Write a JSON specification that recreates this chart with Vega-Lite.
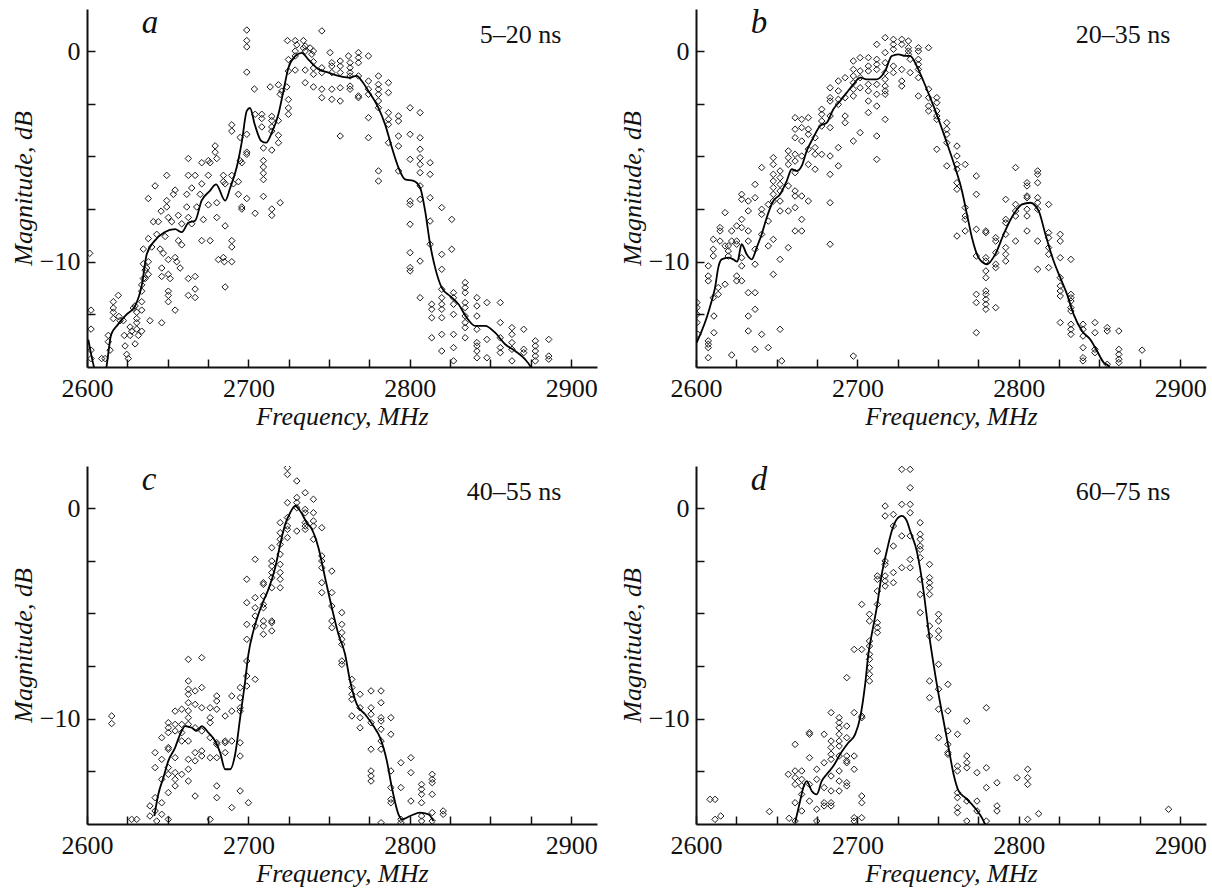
{
"$schema":"https://vega.github.io/schema/vega-lite/v6.json",
"padding":{"left":10,"top":6,"right":5,"bottom":3},
"bounds":"flush",
"spacing":{"row":99,"column":99},
"data":{"values":[
{"p":"a","f":2634,"m":0.86,"t":"a","s":"l"},{"p":"b","f":2634,"m":0.86,"t":"b","s":"l"},{"p":"c","f":2634,"m":0.86,"t":"c","s":"l"},{"p":"d","f":2634,"m":0.86,"t":"d","s":"l"},
{"p":"a","f":2894,"m":0.37,"t":"5–20 ns","s":"r"},{"p":"b","f":2894,"m":0.37,"t":"20–35 ns","s":"r"},{"p":"c","f":2894,"m":0.37,"t":"40–55 ns","s":"r"},{"p":"d","f":2894,"m":0.37,"t":"60–75 ns","s":"r"},
{"p":"a","f":2601.7,"m":-9.6},{"p":"a","f":2602.5,"m":-12.3},{"p":"a","f":2602.5,"m":-13.2},{"p":"a","f":2602.5,"m":-14.2},{"p":"a","f":2602.5,"m":-14.6},{"p":"a","f":2609.1,"m":-14.6},{"p":"a","f":2611.2,"m":-14.6},{"p":"a","f":2613.2,"m":-13.5},{"p":"a","f":2613.2,"m":-13.8},{"p":"a","f":2614.3,"m":-14.2},{"p":"a","f":2616.3,"m":-11.9},{"p":"a","f":2616.3,"m":-12.2},{"p":"a","f":2616.3,"m":-12.4},{"p":"a","f":2616.3,"m":-12.7},{"p":"a","f":2619.4,"m":-11.6},{"p":"a","f":2619.8,"m":-12.6},{"p":"a","f":2620.5,"m":-12.8},{"p":"a","f":2622.5,"m":-12.8},{"p":"a","f":2623.1,"m":-13.5},{"p":"a","f":2623.6,"m":-14.0},{"p":"a","f":2624.6,"m":-14.4},{"p":"a","f":2625.6,"m":-14.6},{"p":"a","f":2626.7,"m":-13.1},{"p":"a","f":2626.7,"m":-13.5},{"p":"a","f":2627.7,"m":-13.3},{"p":"a","f":2628.7,"m":-12.2},{"p":"a","f":2629.8,"m":-12.1},{"p":"a","f":2629.8,"m":-13.9},{"p":"a","f":2630.8,"m":-12.4},{"p":"a","f":2630.8,"m":-12.7},{"p":"a","f":2630.8,"m":-12.9},{"p":"a","f":2630.8,"m":-13.2},{"p":"a","f":2631.8,"m":-13.5},{"p":"a","f":2633.9,"m":-13.3},{"p":"a","f":2633.9,"m":-12.3},{"p":"a","f":2633.9,"m":-11.9},{"p":"a","f":2633.9,"m":-11.4},{"p":"a","f":2633.9,"m":-11.1},{"p":"a","f":2634.9,"m":-10.8},{"p":"a","f":2634.9,"m":-10.1},{"p":"a","f":2634.9,"m":-9.4},{"p":"a","f":2636,"m":-10.8},{"p":"a","f":2636,"m":-10.4},{"p":"a","f":2637,"m":-10.3},{"p":"a","f":2638,"m":-10.6},{"p":"a","f":2638,"m":-10.0},{"p":"a","f":2638,"m":-8.9},{"p":"a","f":2638,"m":-7.0},{"p":"a","f":2639,"m":-12.8},{"p":"a","f":2640.1,"m":-9.3},{"p":"a","f":2641.1,"m":-8.1},{"p":"a","f":2642.2,"m":-6.4},{"p":"a","f":2643.2,"m":-8.7},{"p":"a","f":2644.2,"m":-8.1},{"p":"a","f":2645.3,"m":-9.4},{"p":"a","f":2645.9,"m":-7.6},{"p":"a","f":2646.3,"m":-10.3},{"p":"a","f":2646.3,"m":-10.7},{"p":"a","f":2646.3,"m":-12.9},{"p":"a","f":2647.3,"m":-9.6},{"p":"a","f":2648.4,"m":-8.8},{"p":"a","f":2649.4,"m":-5.9},{"p":"a","f":2649.4,"m":-7.1},{"p":"a","f":2649.4,"m":-7.4},{"p":"a","f":2650.4,"m":-7.9},{"p":"a","f":2650.4,"m":-9.9},{"p":"a","f":2650.4,"m":-10.6},{"p":"a","f":2650.4,"m":-11.4},{"p":"a","f":2650.4,"m":-11.6},{"p":"a","f":2650.4,"m":-11.9},{"p":"a","f":2651.5,"m":-10.8},{"p":"a","f":2652.5,"m":-8.1},{"p":"a","f":2653.5,"m":-6.8},{"p":"a","f":2654.6,"m":-6.6},{"p":"a","f":2654.6,"m":-9.8},{"p":"a","f":2654.6,"m":-12.3},{"p":"a","f":2655.6,"m":-10.0},{"p":"a","f":2656.6,"m":-9.0},{"p":"a","f":2656.6,"m":-7.8},{"p":"a","f":2657.7,"m":-10.3},{"p":"a","f":2658.7,"m":-8.2},{"p":"a","f":2658.7,"m":-9.2},{"p":"a","f":2661.8,"m":-6.8},{"p":"a","f":2661.8,"m":-7.4},{"p":"a","f":2662.8,"m":-7.9},{"p":"a","f":2662.8,"m":-5.9},{"p":"a","f":2662.8,"m":-5.1},{"p":"a","f":2662.8,"m":-11.6},{"p":"a","f":2662.8,"m":-10.8},{"p":"a","f":2664.9,"m":-6.5},{"p":"a","f":2664.9,"m":-8.2},{"p":"a","f":2667,"m":-5.9},{"p":"a","f":2667,"m":-11.7},{"p":"a","f":2667,"m":-11.3},{"p":"a","f":2667,"m":-10.7},{"p":"a","f":2668,"m":-7.4},{"p":"a","f":2670.1,"m":-6.8},{"p":"a","f":2671.1,"m":-5.3},{"p":"a","f":2671.1,"m":-6.3},{"p":"a","f":2671.1,"m":-9.0},{"p":"a","f":2672.1,"m":-8.0},{"p":"a","f":2675.2,"m":-7.3},{"p":"a","f":2675.2,"m":-5.9},{"p":"a","f":2675.2,"m":-5.2},{"p":"a","f":2676.3,"m":-9.0},{"p":"a","f":2676.3,"m":-5.3},{"p":"a","f":2679.4,"m":-4.5},{"p":"a","f":2679.4,"m":-4.8},{"p":"a","f":2680.4,"m":-5.1},{"p":"a","f":2680.4,"m":-7.2},{"p":"a","f":2680.4,"m":-7.9},{"p":"a","f":2681.4,"m":-9.9},{"p":"a","f":2684.5,"m":-5.9},{"p":"a","f":2684.5,"m":-6.2},{"p":"a","f":2685.6,"m":-6.3},{"p":"a","f":2685.6,"m":-8.3},{"p":"a","f":2684.5,"m":-9.8},{"p":"a","f":2685.1,"m":-10.0},{"p":"a","f":2685.6,"m":-11.2},{"p":"a","f":2689.7,"m":-9.0},{"p":"a","f":2689.7,"m":-9.3},{"p":"a","f":2689.7,"m":-10.0},{"p":"a","f":2689.7,"m":-3.5},{"p":"a","f":2689.7,"m":-3.8},{"p":"a","f":2689.7,"m":-5.9},{"p":"a","f":2690.7,"m":-6.3},{"p":"a","f":2693.8,"m":-6.8},{"p":"a","f":2693.8,"m":-6.2},{"p":"a","f":2694.9,"m":-4.1},{"p":"a","f":2694.9,"m":-5.2},{"p":"a","f":2695.9,"m":-5.3},{"p":"a","f":2695.9,"m":-7.4},{"p":"a","f":2695.9,"m":-7.5},{"p":"a","f":2699,"m":-4.8},{"p":"a","f":2699,"m":-4.9},{"p":"a","f":2699,"m":-3.95},{"p":"a","f":2699,"m":-7.0},{"p":"a","f":2699,"m":1.0},{"p":"a","f":2699,"m":0.5},{"p":"a","f":2699,"m":0.2},{"p":"a","f":2699,"m":-1.0},{"p":"a","f":2703.7,"m":-1.8},{"p":"a","f":2704.2,"m":-3.0},{"p":"a","f":2704.2,"m":-7.7},{"p":"a","f":2708.3,"m":-3.0},{"p":"a","f":2708.3,"m":-3.2},{"p":"a","f":2708.3,"m":-3.6},{"p":"a","f":2709.3,"m":-5.2},{"p":"a","f":2709.3,"m":-5.5},{"p":"a","f":2709.3,"m":-5.8},{"p":"a","f":2709.3,"m":-6.1},{"p":"a","f":2709.3,"m":-6.9},{"p":"a","f":2709.3,"m":-4.6},{"p":"a","f":2713.5,"m":-1.7},{"p":"a","f":2714.5,"m":-3.1},{"p":"a","f":2714.5,"m":-3.3},{"p":"a","f":2714.5,"m":-3.6},{"p":"a","f":2714.5,"m":-3.8},{"p":"a","f":2714.5,"m":-4.7},{"p":"a","f":2714.5,"m":-7.5},{"p":"a","f":2714.5,"m":-7.8},{"p":"a","f":2719.7,"m":-7.2},{"p":"a","f":2718.6,"m":-4.0},{"p":"a","f":2718.6,"m":-4.35},{"p":"a","f":2718.6,"m":-3.3},{"p":"a","f":2718.6,"m":-1.6},{"p":"a","f":2719.7,"m":-2.05},{"p":"a","f":2720.7,"m":-1.9},{"p":"a","f":2723.8,"m":-1.7},{"p":"a","f":2724.8,"m":-0.4},{"p":"a","f":2724.8,"m":-0.95},{"p":"a","f":2724.8,"m":-2.7},{"p":"a","f":2724.8,"m":-3.0},{"p":"a","f":2724.8,"m":-2.3},{"p":"a","f":2724.2,"m":0.5},{"p":"a","f":2729,"m":0.5},{"p":"a","f":2730,"m":0.3},{"p":"a","f":2729,"m":-0.9},{"p":"a","f":2729,"m":0.0},{"p":"a","f":2729,"m":-0.23},{"p":"a","f":2734.1,"m":0.5},{"p":"a","f":2734.1,"m":0.15},{"p":"a","f":2735.2,"m":-0.9},{"p":"a","f":2735.2,"m":-1.5},{"p":"a","f":2735.2,"m":0.24},{"p":"a","f":2735.2,"m":0.0},{"p":"a","f":2739.3,"m":-0.15},{"p":"a","f":2740.3,"m":-0.5},{"p":"a","f":2740.3,"m":-0.8},{"p":"a","f":2740.3,"m":-1.1},{"p":"a","f":2740.3,"m":-1.7},{"p":"a","f":2740.3,"m":0.0},{"p":"a","f":2738.3,"m":0.15},{"p":"a","f":2745.5,"m":0.96},{"p":"a","f":2745.5,"m":-0.79},{"p":"a","f":2745.5,"m":-1.02},{"p":"a","f":2745.5,"m":-1.81},{"p":"a","f":2745.5,"m":-2.21},{"p":"a","f":2750.6,"m":-0.07},{"p":"a","f":2751.7,"m":-0.55},{"p":"a","f":2751.7,"m":-0.71},{"p":"a","f":2751.7,"m":-1.02},{"p":"a","f":2751.7,"m":-1.81},{"p":"a","f":2751.7,"m":-2.29},{"p":"a","f":2756.9,"m":-0.47},{"p":"a","f":2756.9,"m":-0.71},{"p":"a","f":2756.9,"m":-1.02},{"p":"a","f":2756.9,"m":-1.74},{"p":"a","f":2756.9,"m":-2.37},{"p":"a","f":2756.9,"m":-4.03},{"p":"a","f":2762,"m":-0.23},{"p":"a","f":2763,"m":-0.55},{"p":"a","f":2763,"m":-0.79},{"p":"a","f":2763,"m":-1.02},{"p":"a","f":2763,"m":-1.18},{"p":"a","f":2763,"m":-1.66},{"p":"a","f":2763,"m":-1.81},{"p":"a","f":2768.2,"m":-0.07},{"p":"a","f":2768.2,"m":-0.31},{"p":"a","f":2768.2,"m":-0.55},{"p":"a","f":2768.2,"m":-1.18},{"p":"a","f":2768.2,"m":-2.13},{"p":"a","f":2768.2,"m":-2.21},{"p":"a","f":2774.4,"m":-0.23},{"p":"a","f":2774.4,"m":-1.42},{"p":"a","f":2774.4,"m":-1.81},{"p":"a","f":2774.4,"m":-2.05},{"p":"a","f":2774.4,"m":-3.16},{"p":"a","f":2774.4,"m":-4.11},{"p":"a","f":2780.6,"m":-1.18},{"p":"a","f":2780.6,"m":-1.58},{"p":"a","f":2780.6,"m":-1.81},{"p":"a","f":2780.6,"m":-2.05},{"p":"a","f":2780.6,"m":-2.37},{"p":"a","f":2780.6,"m":-2.69},{"p":"a","f":2780.6,"m":-5.69},{"p":"a","f":2780.6,"m":-6.17},{"p":"a","f":2786.8,"m":-1.5},{"p":"a","f":2786.8,"m":-1.97},{"p":"a","f":2786.8,"m":-2.92},{"p":"a","f":2786.8,"m":-3.24},{"p":"a","f":2786.8,"m":-3.48},{"p":"a","f":2786.8,"m":-4.35},{"p":"a","f":2793,"m":-3.08},{"p":"a","f":2793,"m":-3.32},{"p":"a","f":2793,"m":-4.03},{"p":"a","f":2793,"m":-4.51},{"p":"a","f":2793,"m":-5.69},{"p":"a","f":2800.2,"m":-2.69},{"p":"a","f":2800.2,"m":-3.95},{"p":"a","f":2800.2,"m":-5.14},{"p":"a","f":2800.2,"m":-7.12},{"p":"a","f":2800.2,"m":-7.28},{"p":"a","f":2800.2,"m":-8.22},{"p":"a","f":2800.2,"m":-9.57},{"p":"a","f":2800.2,"m":-10.28},{"p":"a","f":2800.2,"m":-10.44},{"p":"a","f":2806.4,"m":-2.92},{"p":"a","f":2806.4,"m":-4.11},{"p":"a","f":2806.4,"m":-4.66},{"p":"a","f":2806.4,"m":-5.06},{"p":"a","f":2806.4,"m":-5.38},{"p":"a","f":2806.4,"m":-5.77},{"p":"a","f":2806.4,"m":-6.4},{"p":"a","f":2806.4,"m":-7.04},{"p":"a","f":2806.4,"m":-9.97},{"p":"a","f":2806.4,"m":-11.71},{"p":"a","f":2812.6,"m":-5.3},{"p":"a","f":2812.6,"m":-5.85},{"p":"a","f":2812.6,"m":-6.96},{"p":"a","f":2812.6,"m":-8.07},{"p":"a","f":2812.6,"m":-9.17},{"p":"a","f":2813.6,"m":-12.02},{"p":"a","f":2813.6,"m":-12.26},{"p":"a","f":2813.6,"m":-12.66},{"p":"a","f":2813.6,"m":-13.61},{"p":"a","f":2819.8,"m":-7.43},{"p":"a","f":2819.8,"m":-9.65},{"p":"a","f":2819.8,"m":-10.36},{"p":"a","f":2819.8,"m":-11.31},{"p":"a","f":2819.8,"m":-11.71},{"p":"a","f":2819.8,"m":-12.02},{"p":"a","f":2819.8,"m":-12.26},{"p":"a","f":2819.8,"m":-12.66},{"p":"a","f":2819.8,"m":-13.45},{"p":"a","f":2819.8,"m":-14.24},{"p":"a","f":2826,"m":-7.99},{"p":"a","f":2826,"m":-9.41},{"p":"a","f":2827.1,"m":-11.47},{"p":"a","f":2827.1,"m":-11.71},{"p":"a","f":2827.1,"m":-12.02},{"p":"a","f":2827.1,"m":-12.5},{"p":"a","f":2827.1,"m":-13.45},{"p":"a","f":2827.1,"m":-14.08},{"p":"a","f":2827.1,"m":-14.71},{"p":"a","f":2834.3,"m":-10.99},{"p":"a","f":2834.3,"m":-11.23},{"p":"a","f":2834.3,"m":-11.47},{"p":"a","f":2834.3,"m":-11.94},{"p":"a","f":2834.3,"m":-12.18},{"p":"a","f":2834.3,"m":-12.58},{"p":"a","f":2834.3,"m":-12.89},{"p":"a","f":2834.3,"m":-13.13},{"p":"a","f":2834.3,"m":-13.61},{"p":"a","f":2841.6,"m":-11.71},{"p":"a","f":2841.6,"m":-12.1},{"p":"a","f":2841.6,"m":-12.58},{"p":"a","f":2841.6,"m":-13.21},{"p":"a","f":2841.6,"m":-13.84},{"p":"a","f":2841.6,"m":-14.0},{"p":"a","f":2841.6,"m":-14.24},{"p":"a","f":2841.6,"m":-14.56},{"p":"a","f":2847.8,"m":-11.94},{"p":"a","f":2847.8,"m":-13.69},{"p":"a","f":2847.8,"m":-14.56},{"p":"a","f":2856.1,"m":-11.94},{"p":"a","f":2856.1,"m":-12.89},{"p":"a","f":2856.1,"m":-13.61},{"p":"a","f":2856.1,"m":-14.08},{"p":"a","f":2856.1,"m":-14.32},{"p":"a","f":2863.3,"m":-13.13},{"p":"a","f":2863.3,"m":-13.45},{"p":"a","f":2863.3,"m":-13.84},{"p":"a","f":2863.3,"m":-14.16},{"p":"a","f":2863.3,"m":-14.71},{"p":"a","f":2870.6,"m":-13.21},{"p":"a","f":2870.6,"m":-14.16},{"p":"a","f":2870.6,"m":-14.32},{"p":"a","f":2877.8,"m":-13.76},{"p":"a","f":2877.8,"m":-14.0},{"p":"a","f":2877.8,"m":-14.24},{"p":"a","f":2877.8,"m":-14.48},{"p":"a","f":2877.8,"m":-14.71},{"p":"a","f":2886.1,"m":-13.69},{"p":"a","f":2886.1,"m":-14.48},{"p":"a","f":2886.1,"m":-14.63},
{"p":"b","f":2600.6,"m":-11.94},{"p":"b","f":2600.6,"m":-12.18},{"p":"b","f":2600.6,"m":-12.5},{"p":"b","f":2600.6,"m":-12.89},{"p":"b","f":2601.2,"m":-13.45},{"p":"b","f":2607.6,"m":-10.2},{"p":"b","f":2607.6,"m":-10.68},{"p":"b","f":2607.6,"m":-10.91},{"p":"b","f":2607.6,"m":-13.76},{"p":"b","f":2607.6,"m":-13.92},{"p":"b","f":2607.6,"m":-14.08},{"p":"b","f":2607.6,"m":-14.56},{"p":"b","f":2610.7,"m":-8.94},{"p":"b","f":2610.7,"m":-9.41},{"p":"b","f":2610.7,"m":-9.73},{"p":"b","f":2610.7,"m":-11.71},{"p":"b","f":2611.1,"m":-12.58},{"p":"b","f":2611.1,"m":-13.37},{"p":"b","f":2613.8,"m":-11.55},{"p":"b","f":2613.8,"m":-11.23},{"p":"b","f":2614.9,"m":-9.02},{"p":"b","f":2614.9,"m":-8.54},{"p":"b","f":2614.9,"m":-8.38},{"p":"b","f":2618,"m":-7.67},{"p":"b","f":2618,"m":-9.25},{"p":"b","f":2618,"m":-11.07},{"p":"b","f":2620,"m":-9.25},{"p":"b","f":2620,"m":-9.49},{"p":"b","f":2620,"m":-9.73},{"p":"b","f":2622.1,"m":-8.54},{"p":"b","f":2622.1,"m":-9.02},{"p":"b","f":2622.1,"m":-14.43},{"p":"b","f":2625.2,"m":-8.3},{"p":"b","f":2625.2,"m":-9.02},{"p":"b","f":2625.2,"m":-9.17},{"p":"b","f":2625.2,"m":-10.68},{"p":"b","f":2625.2,"m":-10.91},{"p":"b","f":2628.3,"m":-6.8},{"p":"b","f":2628.3,"m":-7.04},{"p":"b","f":2628.3,"m":-7.99},{"p":"b","f":2628.3,"m":-8.38},{"p":"b","f":2628.3,"m":-9.81},{"p":"b","f":2628.3,"m":-10.2},{"p":"b","f":2628.3,"m":-10.91},{"p":"b","f":2632.4,"m":-7.12},{"p":"b","f":2632.4,"m":-7.59},{"p":"b","f":2632.4,"m":-8.54},{"p":"b","f":2632.4,"m":-9.02},{"p":"b","f":2632.4,"m":-11.47},{"p":"b","f":2632.4,"m":-12.58},{"p":"b","f":2632.4,"m":-13.29},{"p":"b","f":2636.6,"m":-6.33},{"p":"b","f":2636.6,"m":-6.96},{"p":"b","f":2636.6,"m":-9.41},{"p":"b","f":2636.6,"m":-10.12},{"p":"b","f":2636.6,"m":-11.47},{"p":"b","f":2636.6,"m":-12.26},{"p":"b","f":2636.6,"m":-14.16},{"p":"b","f":2640.7,"m":-5.53},{"p":"b","f":2640.7,"m":-7.51},{"p":"b","f":2640.7,"m":-7.75},{"p":"b","f":2640.7,"m":-8.7},{"p":"b","f":2640.7,"m":-13.45},{"p":"b","f":2644.8,"m":-7.28},{"p":"b","f":2644.8,"m":-8.07},{"p":"b","f":2644.8,"m":-9.25},{"p":"b","f":2644.8,"m":-14.08},{"p":"b","f":2647.9,"m":-5.06},{"p":"b","f":2647.9,"m":-5.38},{"p":"b","f":2647.9,"m":-5.85},{"p":"b","f":2647.9,"m":-6.17},{"p":"b","f":2647.9,"m":-6.48},{"p":"b","f":2647.9,"m":-6.8},{"p":"b","f":2647.9,"m":-7.12},{"p":"b","f":2647.9,"m":-8.94},{"p":"b","f":2647.9,"m":-10.6},{"p":"b","f":2652.1,"m":-5.69},{"p":"b","f":2652.1,"m":-6.01},{"p":"b","f":2652.1,"m":-6.33},{"p":"b","f":2652.1,"m":-6.64},{"p":"b","f":2652.1,"m":-7.12},{"p":"b","f":2652.1,"m":-7.59},{"p":"b","f":2652.1,"m":-9.89},{"p":"b","f":2652.1,"m":-13.21},{"p":"b","f":2653.1,"m":-14.71},{"p":"b","f":2657.2,"m":-4.74},{"p":"b","f":2657.2,"m":-5.06},{"p":"b","f":2657.2,"m":-5.38},{"p":"b","f":2657.2,"m":-6.4},{"p":"b","f":2657.2,"m":-7.59},{"p":"b","f":2657.2,"m":-9.33},{"p":"b","f":2661.4,"m":-3.16},{"p":"b","f":2661.4,"m":-3.71},{"p":"b","f":2661.4,"m":-4.11},{"p":"b","f":2661.4,"m":-4.9},{"p":"b","f":2661.4,"m":-5.22},{"p":"b","f":2661.4,"m":-5.77},{"p":"b","f":2661.4,"m":-6.64},{"p":"b","f":2661.4,"m":-6.88},{"p":"b","f":2661.4,"m":-7.43},{"p":"b","f":2661.4,"m":-8.54},{"p":"b","f":2665.5,"m":-3.24},{"p":"b","f":2665.5,"m":-3.63},{"p":"b","f":2665.5,"m":-4.27},{"p":"b","f":2665.5,"m":-4.98},{"p":"b","f":2665.5,"m":-6.88},{"p":"b","f":2665.5,"m":-7.99},{"p":"b","f":2665.5,"m":-8.54},{"p":"b","f":2669.6,"m":-3.16},{"p":"b","f":2669.6,"m":-3.71},{"p":"b","f":2669.6,"m":-3.95},{"p":"b","f":2669.6,"m":-4.66},{"p":"b","f":2669.6,"m":-5.38},{"p":"b","f":2669.6,"m":-7.12},{"p":"b","f":2673.8,"m":-4.11},{"p":"b","f":2673.8,"m":-4.58},{"p":"b","f":2673.8,"m":-4.9},{"p":"b","f":2673.8,"m":-5.61},{"p":"b","f":2677.9,"m":-2.76},{"p":"b","f":2677.9,"m":-3.0},{"p":"b","f":2677.9,"m":-3.32},{"p":"b","f":2677.9,"m":-3.56},{"p":"b","f":2677.9,"m":-4.9},{"p":"b","f":2683.1,"m":-1.74},{"p":"b","f":2683.1,"m":-2.21},{"p":"b","f":2683.1,"m":-2.37},{"p":"b","f":2683.1,"m":-3.08},{"p":"b","f":2683.1,"m":-3.63},{"p":"b","f":2683.1,"m":-4.98},{"p":"b","f":2683.1,"m":-5.85},{"p":"b","f":2683.1,"m":-7.2},{"p":"b","f":2683.1,"m":-9.17},{"p":"b","f":2688.2,"m":-1.42},{"p":"b","f":2688.2,"m":-1.89},{"p":"b","f":2688.2,"m":-2.29},{"p":"b","f":2688.2,"m":-2.53},{"p":"b","f":2688.2,"m":-4.58},{"p":"b","f":2688.2,"m":-5.45},{"p":"b","f":2692.4,"m":-1.26},{"p":"b","f":2692.4,"m":-2.21},{"p":"b","f":2692.4,"m":-3.08},{"p":"b","f":2692.4,"m":-3.4},{"p":"b","f":2697.5,"m":-0.47},{"p":"b","f":2697.5,"m":-0.87},{"p":"b","f":2697.5,"m":-1.18},{"p":"b","f":2697.5,"m":-1.5},{"p":"b","f":2697.5,"m":-1.81},{"p":"b","f":2697.5,"m":-2.13},{"p":"b","f":2697.5,"m":-4.27},{"p":"b","f":2697.5,"m":-14.48},{"p":"b","f":2701.7,"m":-0.31},{"p":"b","f":2701.7,"m":-0.94},{"p":"b","f":2701.7,"m":-1.26},{"p":"b","f":2701.7,"m":-1.74},{"p":"b","f":2701.7,"m":-3.87},{"p":"b","f":2706.8,"m":-0.31},{"p":"b","f":2706.8,"m":-0.71},{"p":"b","f":2706.8,"m":-0.94},{"p":"b","f":2706.8,"m":-1.58},{"p":"b","f":2706.8,"m":-1.89},{"p":"b","f":2706.8,"m":-2.37},{"p":"b","f":2706.8,"m":-2.92},{"p":"b","f":2712,"m":0.32},{"p":"b","f":2712,"m":-0.39},{"p":"b","f":2712,"m":-0.63},{"p":"b","f":2712,"m":-0.87},{"p":"b","f":2712,"m":-1.58},{"p":"b","f":2712,"m":-2.05},{"p":"b","f":2712,"m":-2.61},{"p":"b","f":2712,"m":-4.03},{"p":"b","f":2712,"m":-5.14},{"p":"b","f":2717.2,"m":0.64},{"p":"b","f":2717.2,"m":-0.07},{"p":"b","f":2717.2,"m":-0.55},{"p":"b","f":2717.2,"m":-1.02},{"p":"b","f":2717.2,"m":-1.34},{"p":"b","f":2717.2,"m":-1.66},{"p":"b","f":2717.2,"m":-1.89},{"p":"b","f":2717.2,"m":-2.05},{"p":"b","f":2717.2,"m":-3.24},{"p":"b","f":2722.3,"m":0.56},{"p":"b","f":2722.3,"m":0.32},{"p":"b","f":2722.3,"m":0.09},{"p":"b","f":2722.3,"m":-0.71},{"p":"b","f":2722.3,"m":-1.02},{"p":"b","f":2727.5,"m":0.56},{"p":"b","f":2727.5,"m":0.32},{"p":"b","f":2727.5,"m":-0.87},{"p":"b","f":2727.5,"m":-1.42},{"p":"b","f":2727.5,"m":-1.66},{"p":"b","f":2731.6,"m":0.48},{"p":"b","f":2731.6,"m":0.16},{"p":"b","f":2731.6,"m":0.0},{"p":"b","f":2731.6,"m":-0.15},{"p":"b","f":2732.7,"m":-0.39},{"p":"b","f":2732.7,"m":-1.02},{"p":"b","f":2737.8,"m":0.16},{"p":"b","f":2737.8,"m":0.0},{"p":"b","f":2737.8,"m":-0.39},{"p":"b","f":2737.8,"m":-0.63},{"p":"b","f":2737.8,"m":-0.87},{"p":"b","f":2737.8,"m":-1.26},{"p":"b","f":2737.8,"m":-2.13},{"p":"b","f":2744.1,"m":0.16},{"p":"b","f":2744.1,"m":-1.81},{"p":"b","f":2744.1,"m":-2.21},{"p":"b","f":2744.1,"m":-2.61},{"p":"b","f":2744.1,"m":-2.84},{"p":"b","f":2749.2,"m":-2.21},{"p":"b","f":2749.2,"m":-2.45},{"p":"b","f":2749.2,"m":-2.84},{"p":"b","f":2749.2,"m":-3.08},{"p":"b","f":2749.2,"m":-3.24},{"p":"b","f":2749.2,"m":-4.66},{"p":"b","f":2755.4,"m":-3.4},{"p":"b","f":2755.4,"m":-3.71},{"p":"b","f":2755.4,"m":-3.95},{"p":"b","f":2755.4,"m":-4.35},{"p":"b","f":2755.4,"m":-5.45},{"p":"b","f":2761.7,"m":-4.51},{"p":"b","f":2761.7,"m":-4.98},{"p":"b","f":2761.7,"m":-5.38},{"p":"b","f":2761.7,"m":-5.61},{"p":"b","f":2761.7,"m":-6.25},{"p":"b","f":2761.7,"m":-6.56},{"p":"b","f":2761.7,"m":-8.78},{"p":"b","f":2766.8,"m":-5.38},{"p":"b","f":2766.8,"m":-7.43},{"p":"b","f":2766.8,"m":-7.83},{"p":"b","f":2766.8,"m":-7.99},{"p":"b","f":2766.8,"m":-8.54},{"p":"b","f":2773.7,"m":-5.93},{"p":"b","f":2773.7,"m":-6.8},{"p":"b","f":2773.7,"m":-8.46},{"p":"b","f":2773.7,"m":-9.73},{"p":"b","f":2773.7,"m":-11.55},{"p":"b","f":2773.7,"m":-11.94},{"p":"b","f":2773.7,"m":-13.37},{"p":"b","f":2779.6,"m":-8.54},{"p":"b","f":2779.6,"m":-8.62},{"p":"b","f":2779.6,"m":-9.81},{"p":"b","f":2779.6,"m":-9.97},{"p":"b","f":2779.6,"m":-10.44},{"p":"b","f":2779.6,"m":-10.76},{"p":"b","f":2779.6,"m":-11.39},{"p":"b","f":2779.6,"m":-11.55},{"p":"b","f":2779.6,"m":-11.79},{"p":"b","f":2779.6,"m":-12.02},{"p":"b","f":2779.6,"m":-12.26},{"p":"b","f":2785.7,"m":-8.86},{"p":"b","f":2785.7,"m":-9.02},{"p":"b","f":2785.7,"m":-9.57},{"p":"b","f":2785.7,"m":-10.12},{"p":"b","f":2785.7,"m":-10.28},{"p":"b","f":2785.7,"m":-12.18},{"p":"b","f":2791.9,"m":-7.04},{"p":"b","f":2791.9,"m":-7.99},{"p":"b","f":2791.9,"m":-8.15},{"p":"b","f":2791.9,"m":-8.7},{"p":"b","f":2791.9,"m":-9.33},{"p":"b","f":2791.9,"m":-9.65},{"p":"b","f":2791.9,"m":-9.97},{"p":"b","f":2798,"m":-5.53},{"p":"b","f":2798,"m":-7.28},{"p":"b","f":2798,"m":-7.59},{"p":"b","f":2798,"m":-7.83},{"p":"b","f":2798,"m":-9.02},{"p":"b","f":2805.1,"m":-6.25},{"p":"b","f":2805.1,"m":-6.4},{"p":"b","f":2805.1,"m":-6.88},{"p":"b","f":2805.1,"m":-6.96},{"p":"b","f":2805.1,"m":-7.51},{"p":"b","f":2805.1,"m":-7.83},{"p":"b","f":2805.1,"m":-8.54},{"p":"b","f":2811.7,"m":-5.69},{"p":"b","f":2811.7,"m":-5.85},{"p":"b","f":2811.7,"m":-6.25},{"p":"b","f":2811.7,"m":-6.96},{"p":"b","f":2811.7,"m":-7.2},{"p":"b","f":2811.7,"m":-7.51},{"p":"b","f":2811.7,"m":-9.02},{"p":"b","f":2811.7,"m":-10.36},{"p":"b","f":2818.5,"m":-7.28},{"p":"b","f":2818.5,"m":-8.62},{"p":"b","f":2818.5,"m":-8.86},{"p":"b","f":2818.5,"m":-9.33},{"p":"b","f":2818.5,"m":-9.65},{"p":"b","f":2818.5,"m":-10.28},{"p":"b","f":2825.7,"m":-8.7},{"p":"b","f":2825.7,"m":-9.02},{"p":"b","f":2825.7,"m":-9.81},{"p":"b","f":2825.7,"m":-10.76},{"p":"b","f":2825.7,"m":-11.15},{"p":"b","f":2825.7,"m":-11.39},{"p":"b","f":2825.7,"m":-11.63},{"p":"b","f":2825.7,"m":-12.89},{"p":"b","f":2832.3,"m":-9.89},{"p":"b","f":2832.3,"m":-11.55},{"p":"b","f":2832.3,"m":-11.71},{"p":"b","f":2832.3,"m":-11.87},{"p":"b","f":2832.3,"m":-12.18},{"p":"b","f":2832.3,"m":-12.34},{"p":"b","f":2832.3,"m":-12.97},{"p":"b","f":2832.3,"m":-13.21},{"p":"b","f":2832.3,"m":-13.45},{"p":"b","f":2839.8,"m":-12.97},{"p":"b","f":2839.8,"m":-13.21},{"p":"b","f":2839.8,"m":-13.53},{"p":"b","f":2839.8,"m":-14.08},{"p":"b","f":2839.8,"m":-14.56},{"p":"b","f":2839.8,"m":-14.71},{"p":"b","f":2847.2,"m":-12.89},{"p":"b","f":2847.2,"m":-13.37},{"p":"b","f":2847.2,"m":-14.16},{"p":"b","f":2847.2,"m":-14.32},{"p":"b","f":2854.8,"m":-13.13},{"p":"b","f":2854.8,"m":-13.29},{"p":"b","f":2854.8,"m":-14.87},{"p":"b","f":2862,"m":-13.29},{"p":"b","f":2862,"m":-14.16},{"p":"b","f":2862,"m":-14.4},{"p":"b","f":2862,"m":-14.63},{"p":"b","f":2862,"m":-14.79},{"p":"b","f":2876.4,"m":-14.2},
{"p":"c","f":2615.3,"m":-9.87},{"p":"c","f":2615.3,"m":-10.23},{"p":"c","f":2627.7,"m":-14.78},{"p":"c","f":2630.8,"m":-14.78},{"p":"c","f":2639,"m":-14.14},{"p":"c","f":2639,"m":-14.62},{"p":"c","f":2642.2,"m":-13.75},{"p":"c","f":2642.2,"m":-14.38},{"p":"c","f":2643.2,"m":-14.86},{"p":"c","f":2642.2,"m":-11.61},{"p":"c","f":2642.2,"m":-12.32},{"p":"c","f":2646.3,"m":-10.9},{"p":"c","f":2646.3,"m":-11.93},{"p":"c","f":2646.3,"m":-12.88},{"p":"c","f":2646.3,"m":-13.99},{"p":"c","f":2646.3,"m":-14.54},{"p":"c","f":2650.4,"m":-10.19},{"p":"c","f":2650.4,"m":-10.43},{"p":"c","f":2650.4,"m":-10.66},{"p":"c","f":2650.4,"m":-11.37},{"p":"c","f":2650.4,"m":-11.45},{"p":"c","f":2650.4,"m":-12.32},{"p":"c","f":2650.4,"m":-12.64},{"p":"c","f":2650.4,"m":-13.51},{"p":"c","f":2650.4,"m":-14.78},{"p":"c","f":2654.6,"m":-9.64},{"p":"c","f":2654.6,"m":-10.27},{"p":"c","f":2654.6,"m":-10.58},{"p":"c","f":2654.6,"m":-11.85},{"p":"c","f":2654.6,"m":-12.56},{"p":"c","f":2654.6,"m":-12.88},{"p":"c","f":2654.6,"m":-13.19},{"p":"c","f":2658.7,"m":-9.55},{"p":"c","f":2658.7,"m":-10.27},{"p":"c","f":2658.7,"m":-10.66},{"p":"c","f":2658.7,"m":-11.06},{"p":"c","f":2658.7,"m":-12.64},{"p":"c","f":2662.8,"m":-7.18},{"p":"c","f":2662.8,"m":-8.21},{"p":"c","f":2662.8,"m":-8.6},{"p":"c","f":2662.8,"m":-8.84},{"p":"c","f":2662.8,"m":-9.24},{"p":"c","f":2662.8,"m":-9.63},{"p":"c","f":2662.8,"m":-9.95},{"p":"c","f":2662.8,"m":-10.27},{"p":"c","f":2662.8,"m":-11.06},{"p":"c","f":2662.8,"m":-11.93},{"p":"c","f":2662.8,"m":-12.4},{"p":"c","f":2662.8,"m":-12.96},{"p":"c","f":2667,"m":-8.68},{"p":"c","f":2667,"m":-9.32},{"p":"c","f":2667,"m":-10.43},{"p":"c","f":2667,"m":-11.61},{"p":"c","f":2667,"m":-12.0},{"p":"c","f":2667,"m":-13.67},{"p":"c","f":2671.1,"m":-7.1},{"p":"c","f":2671.1,"m":-8.52},{"p":"c","f":2671.1,"m":-9.48},{"p":"c","f":2671.1,"m":-10.58},{"p":"c","f":2671.1,"m":-11.53},{"p":"c","f":2671.1,"m":-11.77},{"p":"c","f":2676.3,"m":-9.48},{"p":"c","f":2676.3,"m":-9.95},{"p":"c","f":2676.3,"m":-10.19},{"p":"c","f":2676.3,"m":-10.9},{"p":"c","f":2676.3,"m":-11.85},{"p":"c","f":2676.3,"m":-14.78},{"p":"c","f":2680.4,"m":-8.92},{"p":"c","f":2680.4,"m":-9.16},{"p":"c","f":2680.4,"m":-9.55},{"p":"c","f":2680.4,"m":-11.14},{"p":"c","f":2680.4,"m":-11.22},{"p":"c","f":2680.4,"m":-11.85},{"p":"c","f":2680.4,"m":-13.19},{"p":"c","f":2680.4,"m":-13.75},{"p":"c","f":2685.6,"m":-9.87},{"p":"c","f":2685.6,"m":-11.06},{"p":"c","f":2685.6,"m":-11.14},{"p":"c","f":2685.6,"m":-11.61},{"p":"c","f":2689.7,"m":-8.92},{"p":"c","f":2689.7,"m":-9.64},{"p":"c","f":2689.7,"m":-11.06},{"p":"c","f":2689.7,"m":-14.22},{"p":"c","f":2694.9,"m":-8.52},{"p":"c","f":2694.9,"m":-9.0},{"p":"c","f":2694.9,"m":-9.48},{"p":"c","f":2694.9,"m":-9.64},{"p":"c","f":2694.9,"m":-11.14},{"p":"c","f":2694.9,"m":-11.77},{"p":"c","f":2694.9,"m":-13.43},{"p":"c","f":2699,"m":-3.38},{"p":"c","f":2699,"m":-4.49},{"p":"c","f":2699,"m":-5.52},{"p":"c","f":2699,"m":-6.23},{"p":"c","f":2699,"m":-7.26},{"p":"c","f":2699,"m":-7.97},{"p":"c","f":2699,"m":-8.45},{"p":"c","f":2700,"m":-13.99},{"p":"c","f":2704.2,"m":-2.43},{"p":"c","f":2704.2,"m":-4.25},{"p":"c","f":2704.2,"m":-4.73},{"p":"c","f":2704.2,"m":-5.12},{"p":"c","f":2704.2,"m":-5.6},{"p":"c","f":2704.2,"m":-8.13},{"p":"c","f":2709.3,"m":-3.54},{"p":"c","f":2709.3,"m":-3.62},{"p":"c","f":2709.3,"m":-4.17},{"p":"c","f":2709.3,"m":-4.57},{"p":"c","f":2709.3,"m":-4.73},{"p":"c","f":2709.3,"m":-5.36},{"p":"c","f":2709.3,"m":-5.6},{"p":"c","f":2709.3,"m":-5.99},{"p":"c","f":2714.5,"m":-1.88},{"p":"c","f":2714.5,"m":-2.51},{"p":"c","f":2714.5,"m":-2.75},{"p":"c","f":2714.5,"m":-3.06},{"p":"c","f":2714.5,"m":-3.3},{"p":"c","f":2714.5,"m":-3.78},{"p":"c","f":2714.5,"m":-5.36},{"p":"c","f":2714.5,"m":-5.44},{"p":"c","f":2714.5,"m":-5.83},{"p":"c","f":2719.7,"m":-0.69},{"p":"c","f":2719.7,"m":-1.17},{"p":"c","f":2719.7,"m":-1.48},{"p":"c","f":2719.7,"m":-1.72},{"p":"c","f":2719.7,"m":-2.19},{"p":"c","f":2719.7,"m":-2.67},{"p":"c","f":2719.7,"m":-3.06},{"p":"c","f":2719.7,"m":-3.38},{"p":"c","f":2719.7,"m":-3.78},{"p":"c","f":2724.2,"m":1.92},{"p":"c","f":2724.2,"m":1.6},{"p":"c","f":2724.2,"m":0.26},{"p":"c","f":2724.2,"m":-0.45},{"p":"c","f":2724.2,"m":-0.85},{"p":"c","f":2724.2,"m":-1.01},{"p":"c","f":2724.2,"m":-1.4},{"p":"c","f":2730,"m":1.29},{"p":"c","f":2730,"m":0.5},{"p":"c","f":2730,"m":0.26},{"p":"c","f":2730,"m":0.02},{"p":"c","f":2730,"m":-1.09},{"p":"c","f":2735.2,"m":0.73},{"p":"c","f":2735.2,"m":-0.06},{"p":"c","f":2735.2,"m":-0.22},{"p":"c","f":2735.2,"m":-0.69},{"p":"c","f":2735.2,"m":-0.85},{"p":"c","f":2735.2,"m":-1.01},{"p":"c","f":2740.3,"m":0.42},{"p":"c","f":2740.3,"m":-0.22},{"p":"c","f":2740.3,"m":-0.61},{"p":"c","f":2740.3,"m":-0.85},{"p":"c","f":2740.3,"m":-1.48},{"p":"c","f":2745.5,"m":-0.93},{"p":"c","f":2745.5,"m":-2.27},{"p":"c","f":2745.5,"m":-2.51},{"p":"c","f":2745.5,"m":-2.83},{"p":"c","f":2745.5,"m":-3.54},{"p":"c","f":2745.5,"m":-4.01},{"p":"c","f":2751.7,"m":-2.99},{"p":"c","f":2751.7,"m":-4.01},{"p":"c","f":2751.7,"m":-4.65},{"p":"c","f":2751.7,"m":-5.36},{"p":"c","f":2751.7,"m":-5.68},{"p":"c","f":2757.9,"m":-4.96},{"p":"c","f":2757.9,"m":-5.52},{"p":"c","f":2757.9,"m":-5.91},{"p":"c","f":2757.9,"m":-6.23},{"p":"c","f":2757.9,"m":-6.47},{"p":"c","f":2757.9,"m":-7.26},{"p":"c","f":2757.9,"m":-7.42},{"p":"c","f":2764.1,"m":-8.13},{"p":"c","f":2764.1,"m":-8.52},{"p":"c","f":2764.1,"m":-8.84},{"p":"c","f":2764.1,"m":-9.08},{"p":"c","f":2764.1,"m":-9.87},{"p":"c","f":2769.2,"m":-8.84},{"p":"c","f":2769.2,"m":-9.48},{"p":"c","f":2769.2,"m":-9.95},{"p":"c","f":2769.2,"m":-10.43},{"p":"c","f":2776,"m":-8.68},{"p":"c","f":2776,"m":-9.48},{"p":"c","f":2776,"m":-9.79},{"p":"c","f":2776,"m":-10.19},{"p":"c","f":2776,"m":-11.45},{"p":"c","f":2776,"m":-12.48},{"p":"c","f":2776,"m":-12.72},{"p":"c","f":2776,"m":-12.96},{"p":"c","f":2782.2,"m":-8.68},{"p":"c","f":2782.2,"m":-9.24},{"p":"c","f":2782.2,"m":-9.95},{"p":"c","f":2782.2,"m":-10.11},{"p":"c","f":2782.2,"m":-10.5},{"p":"c","f":2782.2,"m":-11.06},{"p":"c","f":2782.2,"m":-11.45},{"p":"c","f":2782.2,"m":-14.94},{"p":"c","f":2788.3,"m":-9.95},{"p":"c","f":2788.3,"m":-10.74},{"p":"c","f":2788.3,"m":-12.48},{"p":"c","f":2788.3,"m":-13.27},{"p":"c","f":2788.3,"m":-13.83},{"p":"c","f":2788.3,"m":-13.99},{"p":"c","f":2794.5,"m":-12.09},{"p":"c","f":2794.5,"m":-13.27},{"p":"c","f":2794.5,"m":-14.78},{"p":"c","f":2794.5,"m":-14.94},{"p":"c","f":2800.7,"m":-11.85},{"p":"c","f":2800.7,"m":-12.56},{"p":"c","f":2800.7,"m":-13.91},{"p":"c","f":2807.3,"m":-13.12},{"p":"c","f":2807.3,"m":-13.35},{"p":"c","f":2807.3,"m":-13.59},{"p":"c","f":2807.3,"m":-13.99},{"p":"c","f":2807.3,"m":-14.62},{"p":"c","f":2807.3,"m":-14.86},{"p":"c","f":2813.9,"m":-12.64},{"p":"c","f":2813.9,"m":-12.88},{"p":"c","f":2813.9,"m":-13.04},{"p":"c","f":2813.9,"m":-13.59},{"p":"c","f":2813.9,"m":-14.46},{"p":"c","f":2813.9,"m":-14.86},{"p":"c","f":2820.7,"m":-14.38},{"p":"c","f":2820.7,"m":-14.54},
{"p":"d","f":2608.7,"m":-13.83},{"p":"d","f":2611.8,"m":-13.83},{"p":"d","f":2611.8,"m":-14.78},{"p":"d","f":2615.3,"m":-14.62},{"p":"d","f":2645.5,"m":-14.41},{"p":"d","f":2657.7,"m":-14.73},{"p":"d","f":2661.4,"m":-14.86},{"p":"d","f":2657.2,"m":-12.64},{"p":"d","f":2661.4,"m":-11.22},{"p":"d","f":2661.4,"m":-12.48},{"p":"d","f":2661.4,"m":-12.8},{"p":"d","f":2661.4,"m":-13.12},{"p":"d","f":2661.4,"m":-13.99},{"p":"d","f":2665.5,"m":-12.48},{"p":"d","f":2665.5,"m":-12.88},{"p":"d","f":2665.5,"m":-13.19},{"p":"d","f":2665.5,"m":-13.59},{"p":"d","f":2665.5,"m":-14.38},{"p":"d","f":2670.3,"m":-10.66},{"p":"d","f":2670.3,"m":-10.74},{"p":"d","f":2670.3,"m":-11.85},{"p":"d","f":2670.3,"m":-13.12},{"p":"d","f":2670.3,"m":-13.91},{"p":"d","f":2674.8,"m":-12.4},{"p":"d","f":2674.8,"m":-12.88},{"p":"d","f":2674.8,"m":-14.3},{"p":"d","f":2674.8,"m":-14.86},{"p":"d","f":2679.4,"m":-10.74},{"p":"d","f":2679.4,"m":-12.09},{"p":"d","f":2679.4,"m":-13.27},{"p":"d","f":2679.4,"m":-13.99},{"p":"d","f":2679.4,"m":-14.14},{"p":"d","f":2683.7,"m":-9.71},{"p":"d","f":2683.7,"m":-11.06},{"p":"d","f":2683.7,"m":-11.37},{"p":"d","f":2683.7,"m":-11.69},{"p":"d","f":2683.7,"m":-11.93},{"p":"d","f":2683.7,"m":-12.72},{"p":"d","f":2683.7,"m":-13.43},{"p":"d","f":2683.7,"m":-13.99},{"p":"d","f":2683.7,"m":-14.14},{"p":"d","f":2688.7,"m":-9.95},{"p":"d","f":2688.7,"m":-10.19},{"p":"d","f":2688.7,"m":-10.43},{"p":"d","f":2688.7,"m":-10.74},{"p":"d","f":2688.7,"m":-11.06},{"p":"d","f":2688.7,"m":-11.3},{"p":"d","f":2688.7,"m":-11.77},{"p":"d","f":2688.7,"m":-12.48},{"p":"d","f":2688.7,"m":-12.96},{"p":"d","f":2688.7,"m":-13.43},{"p":"d","f":2693.4,"m":-8.05},{"p":"d","f":2693.4,"m":-10.35},{"p":"d","f":2693.4,"m":-10.9},{"p":"d","f":2693.4,"m":-11.77},{"p":"d","f":2693.4,"m":-12.0},{"p":"d","f":2693.4,"m":-12.09},{"p":"d","f":2693.4,"m":-13.04},{"p":"d","f":2693.4,"m":-13.19},{"p":"d","f":2698,"m":-6.71},{"p":"d","f":2698,"m":-9.71},{"p":"d","f":2698,"m":-11.77},{"p":"d","f":2698,"m":-12.4},{"p":"d","f":2698,"m":-14.7},{"p":"d","f":2698,"m":-14.86},{"p":"d","f":2702.7,"m":-4.57},{"p":"d","f":2702.7,"m":-6.71},{"p":"d","f":2702.7,"m":-9.87},{"p":"d","f":2702.7,"m":-9.95},{"p":"d","f":2702.7,"m":-13.67},{"p":"d","f":2702.7,"m":-13.99},{"p":"d","f":2702.7,"m":-14.7},{"p":"d","f":2707.5,"m":-5.04},{"p":"d","f":2707.5,"m":-5.36},{"p":"d","f":2707.5,"m":-6.31},{"p":"d","f":2707.5,"m":-6.55},{"p":"d","f":2707.5,"m":-6.94},{"p":"d","f":2707.5,"m":-7.18},{"p":"d","f":2707.5,"m":-7.58},{"p":"d","f":2707.5,"m":-7.89},{"p":"d","f":2707.5,"m":-8.21},{"p":"d","f":2712.4,"m":-2.04},{"p":"d","f":2712.4,"m":-3.22},{"p":"d","f":2712.4,"m":-3.38},{"p":"d","f":2712.4,"m":-3.94},{"p":"d","f":2712.4,"m":-4.57},{"p":"d","f":2712.4,"m":-5.44},{"p":"d","f":2712.4,"m":-5.68},{"p":"d","f":2712.4,"m":-5.91},{"p":"d","f":2717.2,"m":0.1},{"p":"d","f":2717.2,"m":-0.37},{"p":"d","f":2717.2,"m":-2.51},{"p":"d","f":2717.2,"m":-2.67},{"p":"d","f":2717.2,"m":-3.22},{"p":"d","f":2717.2,"m":-3.46},{"p":"d","f":2717.2,"m":-3.7},{"p":"d","f":2722.3,"m":-0.3},{"p":"d","f":2722.3,"m":-0.85},{"p":"d","f":2722.3,"m":-1.8},{"p":"d","f":2722.3,"m":-3.06},{"p":"d","f":2722.3,"m":-3.54},{"p":"d","f":2727.5,"m":1.84},{"p":"d","f":2727.5,"m":0.18},{"p":"d","f":2727.5,"m":-1.32},{"p":"d","f":2727.5,"m":-2.83},{"p":"d","f":2732.7,"m":1.84},{"p":"d","f":2732.7,"m":0.97},{"p":"d","f":2732.7,"m":0.18},{"p":"d","f":2732.7,"m":-0.22},{"p":"d","f":2732.7,"m":-1.32},{"p":"d","f":2732.7,"m":-2.44},{"p":"d","f":2732.7,"m":-2.83},{"p":"d","f":2738.9,"m":-0.69},{"p":"d","f":2738.9,"m":-1.24},{"p":"d","f":2738.9,"m":-1.48},{"p":"d","f":2738.9,"m":-1.8},{"p":"d","f":2738.9,"m":-1.96},{"p":"d","f":2738.9,"m":-2.35},{"p":"d","f":2738.9,"m":-3.38},{"p":"d","f":2738.9,"m":-4.1},{"p":"d","f":2738.9,"m":-4.96},{"p":"d","f":2744.7,"m":-2.67},{"p":"d","f":2744.7,"m":-3.3},{"p":"d","f":2744.7,"m":-3.54},{"p":"d","f":2744.7,"m":-3.78},{"p":"d","f":2744.7,"m":-4.1},{"p":"d","f":2744.7,"m":-5.6},{"p":"d","f":2744.7,"m":-6.07},{"p":"d","f":2744.7,"m":-8.21},{"p":"d","f":2744.7,"m":-9.0},{"p":"d","f":2750.3,"m":-5.04},{"p":"d","f":2750.3,"m":-5.36},{"p":"d","f":2750.3,"m":-5.83},{"p":"d","f":2750.3,"m":-6.15},{"p":"d","f":2750.3,"m":-7.42},{"p":"d","f":2750.3,"m":-8.6},{"p":"d","f":2750.3,"m":-9.55},{"p":"d","f":2750.3,"m":-10.9},{"p":"d","f":2756.1,"m":-8.37},{"p":"d","f":2756.1,"m":-9.63},{"p":"d","f":2756.1,"m":-10.58},{"p":"d","f":2756.1,"m":-11.22},{"p":"d","f":2756.1,"m":-11.61},{"p":"d","f":2756.1,"m":-11.69},{"p":"d","f":2762,"m":-10.74},{"p":"d","f":2762,"m":-12.25},{"p":"d","f":2762,"m":-12.48},{"p":"d","f":2762,"m":-13.51},{"p":"d","f":2762,"m":-13.75},{"p":"d","f":2762,"m":-14.22},{"p":"d","f":2762,"m":-14.46},{"p":"d","f":2767.8,"m":-10.11},{"p":"d","f":2767.8,"m":-11.77},{"p":"d","f":2767.8,"m":-12.09},{"p":"d","f":2767.8,"m":-12.33},{"p":"d","f":2767.8,"m":-13.91},{"p":"d","f":2767.8,"m":-14.86},{"p":"d","f":2774.1,"m":-12.56},{"p":"d","f":2774.1,"m":-13.91},{"p":"d","f":2774.1,"m":-14.38},{"p":"d","f":2779.9,"m":-9.48},{"p":"d","f":2779.9,"m":-12.33},{"p":"d","f":2779.9,"m":-13.27},{"p":"d","f":2779.9,"m":-14.86},{"p":"d","f":2786.5,"m":-13.04},{"p":"d","f":2786.5,"m":-14.14},{"p":"d","f":2786.5,"m":-14.38},{"p":"d","f":2798.9,"m":-12.8},{"p":"d","f":2805.5,"m":-12.4},{"p":"d","f":2805.5,"m":-12.8},{"p":"d","f":2805.5,"m":-13.12},{"p":"d","f":2805.5,"m":-14.78},{"p":"d","f":2812.3,"m":-14.51},{"p":"d","f":2892.8,"m":-14.3},
{"p":"a","f":2600.8,"l":-13.7},{"p":"a","f":2604,"l":-14.9},{"p":"a","f":2608,"l":-15.8},{"p":"a","f":2612,"l":-15.0},{"p":"a","f":2615,"l":-13.45},{"p":"a","f":2619,"l":-13.0},{"p":"a","f":2624.6,"l":-12.5},{"p":"a","f":2629.8,"l":-12.1},{"p":"a","f":2634,"l":-11.1},{"p":"a","f":2637,"l":-9.65},{"p":"a","f":2642,"l":-9.0},{"p":"a","f":2648,"l":-8.6},{"p":"a","f":2654.6,"l":-8.45},{"p":"a","f":2658.7,"l":-8.6},{"p":"a","f":2662.8,"l":-8.15},{"p":"a","f":2667,"l":-8.05},{"p":"a","f":2671,"l":-7.1},{"p":"a","f":2676,"l":-6.65},{"p":"a","f":2680,"l":-6.33},{"p":"a","f":2685.6,"l":-7.1},{"p":"a","f":2688.7,"l":-6.5},{"p":"a","f":2692.8,"l":-5.5},{"p":"a","f":2696,"l":-4.27},{"p":"a","f":2699,"l":-2.84},{"p":"a","f":2701,"l":-2.7},{"p":"a","f":2704,"l":-3.5},{"p":"a","f":2708,"l":-4.27},{"p":"a","f":2711,"l":-4.35},{"p":"a","f":2714.5,"l":-3.87},{"p":"a","f":2718.6,"l":-3.0},{"p":"a","f":2721.7,"l":-1.9},{"p":"a","f":2724.8,"l":-0.79},{"p":"a","f":2729,"l":-0.24},{"p":"a","f":2733,"l":-0.08},{"p":"a","f":2737.2,"l":-0.4},{"p":"a","f":2743.4,"l":-0.86},{"p":"a","f":2749.6,"l":-1.02},{"p":"a","f":2755.8,"l":-1.18},{"p":"a","f":2762,"l":-1.26},{"p":"a","f":2767.2,"l":-1.18},{"p":"a","f":2770.3,"l":-1.42},{"p":"a","f":2774.4,"l":-1.9},{"p":"a","f":2780.6,"l":-2.69},{"p":"a","f":2784.7,"l":-3.48},{"p":"a","f":2788.9,"l":-4.58},{"p":"a","f":2793,"l":-5.53},{"p":"a","f":2797.1,"l":-6.09},{"p":"a","f":2802.3,"l":-6.16},{"p":"a","f":2806.4,"l":-6.48},{"p":"a","f":2809.5,"l":-7.59},{"p":"a","f":2812.6,"l":-9.17},{"p":"a","f":2815.7,"l":-10.28},{"p":"a","f":2819.8,"l":-11.23},{"p":"a","f":2825,"l":-11.63},{"p":"a","f":2830.2,"l":-12.02},{"p":"a","f":2835.3,"l":-12.66},{"p":"a","f":2840.5,"l":-13.05},{"p":"a","f":2846.7,"l":-13.05},{"p":"a","f":2852.9,"l":-13.37},{"p":"a","f":2859.1,"l":-13.92},{"p":"a","f":2865.3,"l":-14.24},{"p":"a","f":2871.5,"l":-14.64},{"p":"a","f":2874.6,"l":-14.95},{"p":"a","f":2877,"l":-15.3},
{"p":"b","f":2600.4,"l":-13.84},{"p":"b","f":2603.5,"l":-13.3},{"p":"b","f":2606.6,"l":-12.66},{"p":"b","f":2609.7,"l":-11.87},{"p":"b","f":2611.8,"l":-11.23},{"p":"b","f":2613.8,"l":-10.28},{"p":"b","f":2615.9,"l":-9.89},{"p":"b","f":2620,"l":-9.81},{"p":"b","f":2623.1,"l":-9.89},{"p":"b","f":2625.6,"l":-10.0},{"p":"b","f":2628.3,"l":-9.17},{"p":"b","f":2631.4,"l":-9.65},{"p":"b","f":2634.5,"l":-9.89},{"p":"b","f":2637.6,"l":-9.33},{"p":"b","f":2640.7,"l":-8.7},{"p":"b","f":2643.8,"l":-7.91},{"p":"b","f":2647.9,"l":-7.12},{"p":"b","f":2652.1,"l":-6.8},{"p":"b","f":2656.2,"l":-6.17},{"p":"b","f":2659.3,"l":-5.61},{"p":"b","f":2662.4,"l":-5.69},{"p":"b","f":2665.5,"l":-5.45},{"p":"b","f":2668.6,"l":-4.74},{"p":"b","f":2672.7,"l":-4.11},{"p":"b","f":2676.8,"l":-3.56},{"p":"b","f":2681,"l":-3.4},{"p":"b","f":2685.1,"l":-2.76},{"p":"b","f":2689.3,"l":-2.37},{"p":"b","f":2693.4,"l":-1.97},{"p":"b","f":2697.5,"l":-1.58},{"p":"b","f":2701.7,"l":-1.26},{"p":"b","f":2705.8,"l":-1.34},{"p":"b","f":2712,"l":-1.34},{"p":"b","f":2717.2,"l":-0.94},{"p":"b","f":2721.3,"l":-0.23},{"p":"b","f":2725.4,"l":-0.15},{"p":"b","f":2729.6,"l":-0.23},{"p":"b","f":2732.7,"l":-0.23},{"p":"b","f":2736.8,"l":-0.71},{"p":"b","f":2740.9,"l":-1.42},{"p":"b","f":2745.1,"l":-2.21},{"p":"b","f":2750.3,"l":-3.24},{"p":"b","f":2755.4,"l":-4.35},{"p":"b","f":2760.6,"l":-5.53},{"p":"b","f":2764.8,"l":-6.64},{"p":"b","f":2767.9,"l":-7.75},{"p":"b","f":2771,"l":-8.86},{"p":"b","f":2775.1,"l":-9.81},{"p":"b","f":2780.3,"l":-10.12},{"p":"b","f":2785.4,"l":-9.65},{"p":"b","f":2790.6,"l":-8.7},{"p":"b","f":2796.8,"l":-7.75},{"p":"b","f":2802,"l":-7.28},{"p":"b","f":2807.1,"l":-7.2},{"p":"b","f":2812.3,"l":-7.59},{"p":"b","f":2816.5,"l":-8.7},{"p":"b","f":2821.6,"l":-9.97},{"p":"b","f":2825.7,"l":-10.76},{"p":"b","f":2829.9,"l":-11.55},{"p":"b","f":2834,"l":-12.5},{"p":"b","f":2839.2,"l":-13.29},{"p":"b","f":2844.3,"l":-13.69},{"p":"b","f":2848.5,"l":-14.24},{"p":"b","f":2852.6,"l":-14.79},{"p":"b","f":2855.7,"l":-14.95},{"p":"b","f":2858,"l":-15.3},
{"p":"c","f":2641.7,"l":-14.62},{"p":"c","f":2644.2,"l":-13.59},{"p":"c","f":2647.3,"l":-12.8},{"p":"c","f":2650.4,"l":-12.0},{"p":"c","f":2654.6,"l":-11.37},{"p":"c","f":2657.7,"l":-10.74},{"p":"c","f":2660.8,"l":-10.35},{"p":"c","f":2664.9,"l":-10.43},{"p":"c","f":2668,"l":-10.58},{"p":"c","f":2671.1,"l":-10.35},{"p":"c","f":2675.2,"l":-10.66},{"p":"c","f":2679.4,"l":-11.06},{"p":"c","f":2682.5,"l":-11.61},{"p":"c","f":2685.6,"l":-12.4},{"p":"c","f":2688.7,"l":-12.4},{"p":"c","f":2691.8,"l":-11.69},{"p":"c","f":2694.9,"l":-9.95},{"p":"c","f":2698,"l":-8.21},{"p":"c","f":2700,"l":-6.94},{"p":"c","f":2703.1,"l":-5.83},{"p":"c","f":2706.2,"l":-5.04},{"p":"c","f":2709.3,"l":-4.41},{"p":"c","f":2712.4,"l":-3.86},{"p":"c","f":2716.6,"l":-2.83},{"p":"c","f":2719.7,"l":-1.72},{"p":"c","f":2722.8,"l":-0.77},{"p":"c","f":2725.9,"l":-0.22},{"p":"c","f":2729,"l":0.1},{"p":"c","f":2732.1,"l":-0.14},{"p":"c","f":2736.2,"l":-0.69},{"p":"c","f":2739.3,"l":-1.0},{"p":"c","f":2743.4,"l":-1.88},{"p":"c","f":2747.5,"l":-3.3},{"p":"c","f":2751.7,"l":-4.73},{"p":"c","f":2755.8,"l":-5.99},{"p":"c","f":2759.9,"l":-6.94},{"p":"c","f":2763,"l":-8.21},{"p":"c","f":2767.2,"l":-9.32},{"p":"c","f":2772.3,"l":-9.79},{"p":"c","f":2777.5,"l":-10.35},{"p":"c","f":2781.6,"l":-10.9},{"p":"c","f":2785.8,"l":-12.01},{"p":"c","f":2788.9,"l":-13.27},{"p":"c","f":2793,"l":-14.54},{"p":"c","f":2795.1,"l":-14.78},{"p":"c","f":2800.2,"l":-14.62},{"p":"c","f":2806.4,"l":-14.46},{"p":"c","f":2811.6,"l":-14.54},{"p":"c","f":2814.7,"l":-14.86},
{"p":"d","f":2661.4,"l":-14.94},{"p":"d","f":2664.5,"l":-13.91},{"p":"d","f":2666.5,"l":-13.27},{"p":"d","f":2668.6,"l":-12.96},{"p":"d","f":2671.7,"l":-13.43},{"p":"d","f":2674.8,"l":-13.59},{"p":"d","f":2677.9,"l":-12.96},{"p":"d","f":2681,"l":-12.64},{"p":"d","f":2685.1,"l":-12.25},{"p":"d","f":2689.3,"l":-11.69},{"p":"d","f":2694.4,"l":-11.14},{"p":"d","f":2698.6,"l":-10.74},{"p":"d","f":2701.7,"l":-9.95},{"p":"d","f":2704.8,"l":-8.37},{"p":"d","f":2706.8,"l":-6.94},{"p":"d","f":2708.9,"l":-5.99},{"p":"d","f":2712,"l":-4.73},{"p":"d","f":2715.1,"l":-3.14},{"p":"d","f":2718.2,"l":-2.04},{"p":"d","f":2721.3,"l":-1.09},{"p":"d","f":2724.4,"l":-0.53},{"p":"d","f":2727.5,"l":-0.37},{"p":"d","f":2730.6,"l":-0.61},{"p":"d","f":2732.7,"l":-1.09},{"p":"d","f":2736.8,"l":-2.04},{"p":"d","f":2741,"l":-3.94},{"p":"d","f":2744.1,"l":-5.83},{"p":"d","f":2747.2,"l":-7.42},{"p":"d","f":2750.3,"l":-8.84},{"p":"d","f":2753.4,"l":-10.11},{"p":"d","f":2756.5,"l":-11.37},{"p":"d","f":2759.6,"l":-12.64},{"p":"d","f":2762.7,"l":-13.43},{"p":"d","f":2766.8,"l":-13.75},{"p":"d","f":2771,"l":-14.07},{"p":"d","f":2775.1,"l":-14.46},{"p":"d","f":2778.2,"l":-14.86},{"p":"d","f":2780,"l":-15.2}
]},
"facet":{"field":"p","type":"nominal","header":{"title":null,"labels":false,"labelExpr":"''","labelFontSize":1,"labelPadding":0,"labelColor":"transparent"}},
"columns":2,
"spec":{
"width":510,"height":358,
"encoding":{
"x":{"field":"f","type":"quantitative","scale":{"domain":[2600,2916],"nice":false,"zero":false},
"axis":{"title":"Frequency, MHz","values":[2600,2625,2650,2675,2700,2725,2750,2775,2800,2825,2850,2875,2900],"format":"d","labelExpr":"datum.value % 100 == 0 ? datum.label : ''","tickSize":-8,"labelPadding":16,"titlePadding":2,"labelFlush":false,"labelOverlap":false,"titleFont":"Liberation Serif","labelFont":"Liberation Serif","titleFontStyle":"italic"}},
"y":{"field":"m","type":"quantitative","scale":{"domain":[-15,2],"nice":false,"zero":false},
"axis":{"title":"Magnitude, dB","values":[-12.5,-10,-7.5,-5,-2.5,0],"format":"d","labelExpr":"datum.value == 0 || datum.value == -10 ? datum.label : ''","tickSize":-8,"labelPadding":15,"titlePadding":3,"labelOverlap":false,"titleFont":"Liberation Serif","labelFont":"Liberation Serif","titleFontStyle":"italic"}}
},
"layer":[
{"transform":[{"filter":"isValid(datum.m) && !isValid(datum.s)"}],
 "mark":{"type":"point","shape":"diamond","filled":false,"stroke":"#1a1a1a","strokeWidth":1,"size":42,"opacity":1,"clip":true}},
{"transform":[{"filter":"isValid(datum.l)"}],
 "mark":{"type":"line","color":"#000","strokeWidth":1.8,"interpolate":"monotone","clip":true},
 "encoding":{"y":{"field":"l","type":"quantitative","scale":{"domain":[-15,2],"nice":false,"zero":false},
 "axis":{"title":"Magnitude, dB","values":[-12.5,-10,-7.5,-5,-2.5,0],"format":"d","labelExpr":"datum.value == 0 || datum.value == -10 ? datum.label : ''","tickSize":-8,"labelPadding":15,"titlePadding":3,"labelOverlap":false,"titleFont":"Liberation Serif","labelFont":"Liberation Serif","titleFontStyle":"italic"}}}},
{"transform":[{"filter":"datum.s == 'l'"}],
 "mark":{"type":"text","font":"Liberation Serif","fontStyle":"italic","fontSize":33,"align":"left","baseline":"alphabetic","color":"#111"},
 "encoding":{"text":{"field":"t"}}},
{"transform":[{"filter":"datum.s == 'r'"}],
 "mark":{"type":"text","font":"Liberation Serif","fontSize":26,"align":"right","baseline":"alphabetic","color":"#111"},
 "encoding":{"text":{"field":"t"}}}
]
},
"resolve":{"axis":{"x":"independent","y":"independent"}},
"config":{
"view":{"stroke":null},
"font":"Liberation Serif",
"header":{"labels":false,"title":null,"labelFontSize":1,"labelPadding":0},
"axis":{"labelFont":"Liberation Serif","titleFont":"Liberation Serif","labelFontSize":26,"titleFontSize":26,"titleFontWeight":"normal","labelColor":"#111","titleColor":"#111","domainColor":"#111","tickColor":"#111","domainWidth":2,"tickWidth":1.5,"grid":false}
}
}
